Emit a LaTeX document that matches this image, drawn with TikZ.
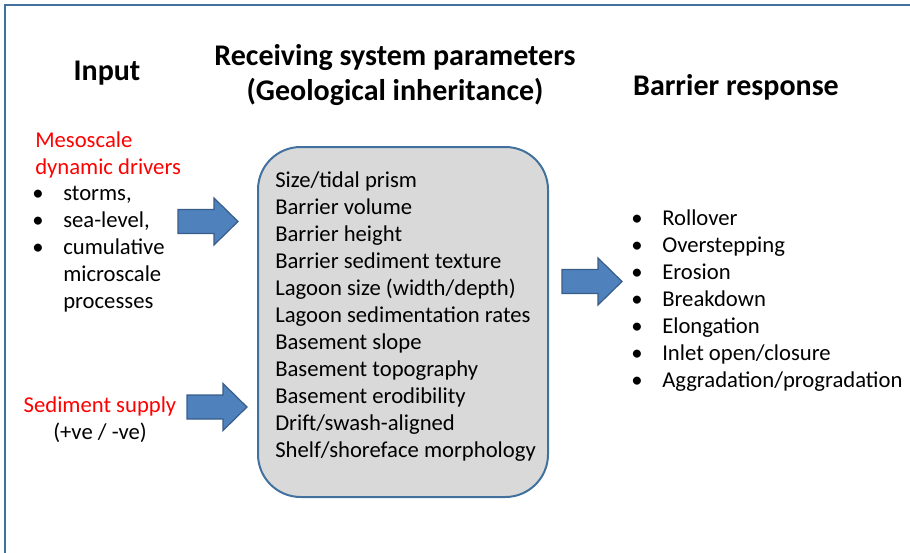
\documentclass[tikz,border=0pt]{standalone}
\usepackage{fontspec}
\setmainfont{Carlito}
\definecolor{framecol}{HTML}{41719C}
\definecolor{arrowblue}{HTML}{4F81BD}
\definecolor{arrowedge}{HTML}{385D8A}
\definecolor{boxfill}{HTML}{D9D9D9}
\definecolor{redtext}{HTML}{FF0000}
\begin{document}
\begin{tikzpicture}[x=0.75pt,y=-0.75pt,
  body/.style={font=\fontsize{17}{20}\selectfont, anchor=base west, inner sep=0pt},
  redbody/.style={body, text=redtext},
  head/.style={font=\fontsize{22.5}{26}\selectfont\bfseries, anchor=base, inner sep=0pt},
  bul/.style={font=\fontsize{17}{20}\selectfont, anchor=base, inner sep=0pt},
  barrow/.style={fill=arrowblue, draw=arrowedge, line width=0.9pt, line join=miter},
  paramsbox/.style={draw=framecol, fill=boxfill, line width=1.5pt, rounded corners=32pt,
    minimum width=217.5pt, minimum height=262.5pt, inner sep=0pt},
  pics/blockarrow/.style={code={
    \draw[barrow] (0,-12) -- (36,-12) -- (36,-23.5) -- (60,0) -- (36,23.5) -- (36,12) -- (0,12) -- cycle;}}
]
\useasboundingbox (0,0) rectangle (910,553);
\draw[framecol, line width=1.6pt] (5,553) -- (5,5) -- (910,5);

% headings
\node[head] (hin) at (107,80) {Input};
\node[head] (hrec1) at (395,65) {Receiving system parameters};
\node[head] (hrec2) at (395,100) {(Geological inheritance)};
\node[head] (hbar) at (736,95) {Barrier response};

% parameters box
\node[paramsbox] (params) at (403,322) {};
\foreach \t [count=\i from 0] in {Size/tidal prism, Barrier volume, Barrier height,
  Barrier sediment texture, Lagoon size (width/depth), Lagoon sedimentation rates,
  Basement slope, Basement topography, Basement erodibility, Drift/swash-aligned,
  Shelf/shoreface morphology}
  \node[body] (p\i) at (275,{187+27*\i}) {\t};

% left input
\node[redbody] (meso1) at (35,147) {Mesoscale};
\node[redbody] (meso2) at (35,174) {dynamic drivers};
\foreach \t/\b [count=\i from 0] in {{storms,}/1, {sea-level,}/1, cumulative/1, microscale/0, processes/0}{
  \node[body] (d\i) at (63,{200+27*\i}) {\t};
  \ifnum\b=1 \node[bul] (db\i) at (38,{200+27*\i}) {\textbullet}; \fi
}
\node[redbody, anchor=base] (sed1) at (100,412) {Sediment supply};
\node[body, anchor=base] (sed2) at (100,439) {(+ve / -ve)};

% right response
\foreach \t [count=\i from 0] in {Rollover, Overstepping, Erosion, Breakdown, Elongation,
  Inlet open/closure, Aggradation/progradation}{
  \node[body] (r\i) at (662,{225+27*\i}) {\t};
  \node[bul] (rb\i) at (637,{225+27*\i}) {\textbullet};
}

% block arrows
\pic (a1) at (178,221.5) {blockarrow};
\pic (a2) at (187,407) {blockarrow};
\pic (a3) at (562,281.5) {blockarrow};
\end{tikzpicture}
\end{document}
